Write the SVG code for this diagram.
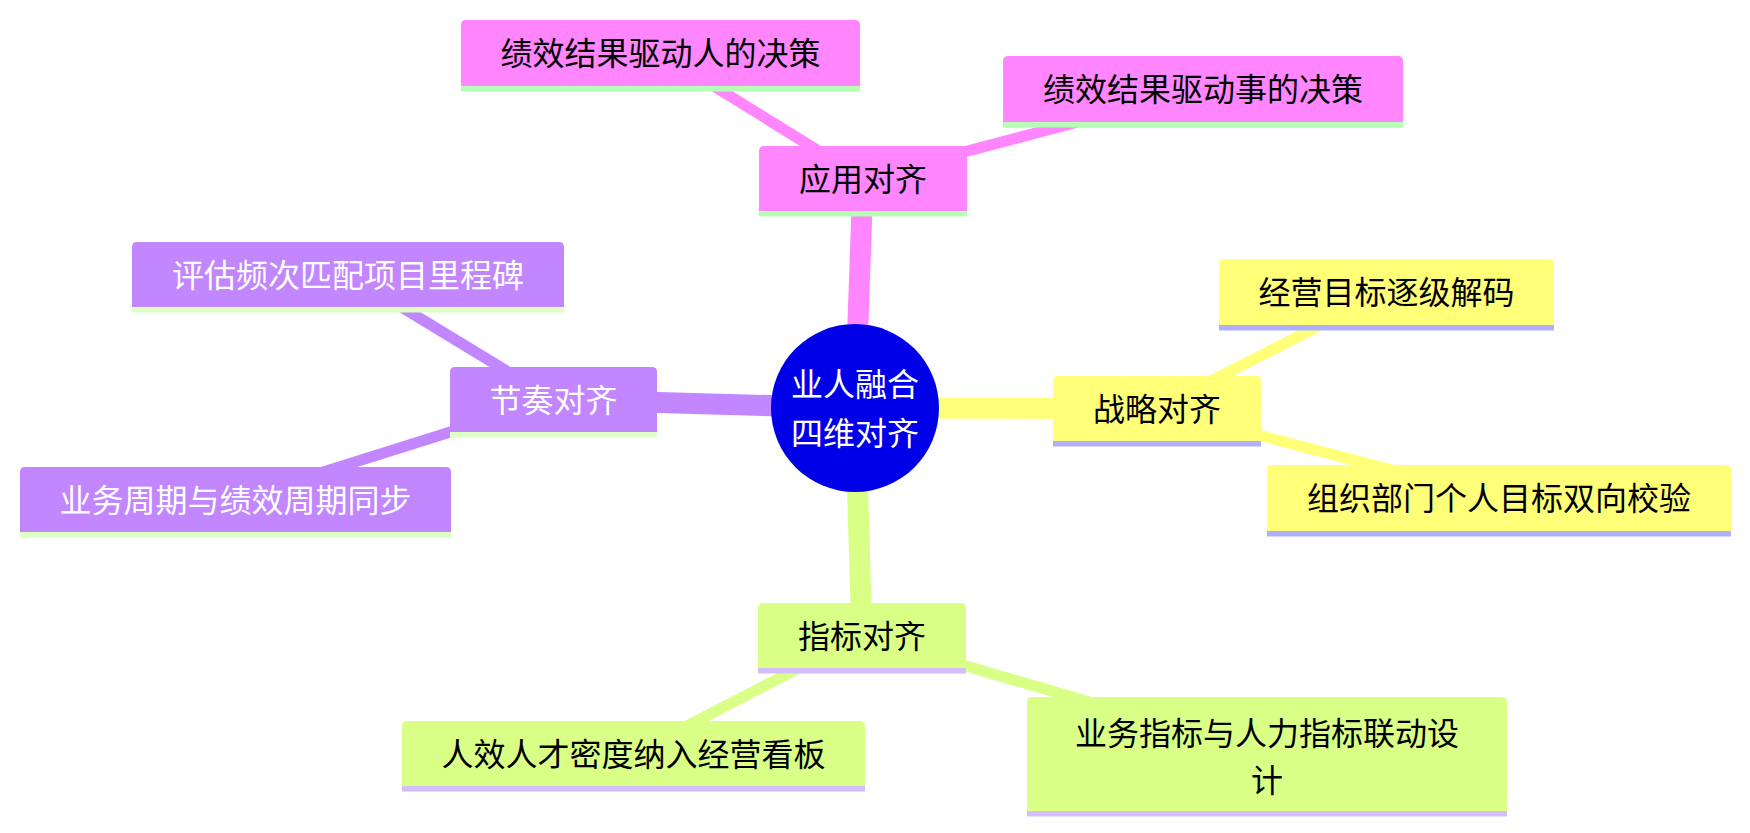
<svg xmlns="http://www.w3.org/2000/svg" width="1750" height="833" viewBox="0 0 1750 833">
<style>
text{font-family:"Noto Sans CJK SC","Noto Sans",sans-serif;font-size:32px;text-anchor:middle}
.e1{stroke-width:21;fill:none;stroke-linecap:butt}
.e2{stroke-width:11;fill:none;stroke-linecap:butt}
.s0 path{fill:#FFFF78}.s0 .ul{fill:#AFAFFF}.s0 text{fill:#000}.s0e{stroke:#FFFF78}
.s1 path{fill:#D9FF86}.s1 .ul{fill:#D2BEFF}.s1 text{fill:#000}.s1e{stroke:#D9FF86}
.s2 path{fill:#C286FF}.s2 .ul{fill:#DDFFC6}.s2 text{fill:#fff}.s2e{stroke:#C286FF}
.s3 path{fill:#FF86FF}.s3 .ul{fill:#B5FFB5}.s3 text{fill:#000}.s3e{stroke:#FF86FF}
</style>
<rect width="1750" height="833" fill="#fff"/>
<g id="connectors">
<line class="e1 s0e" x1="855" y1="408" x2="1157" y2="408.5"/>
<line class="e1 s1e" x1="855" y1="408" x2="862" y2="635.5"/>
<line class="e1 s2e" x1="855" y1="408" x2="553.5" y2="399.5"/>
<line class="e1 s3e" x1="855" y1="408" x2="863" y2="178.5"/>
<line class="e2 s0e" x1="1157" y1="408.5" x2="1386.5" y2="291.5"/>
<line class="e2 s0e" x1="1157" y1="408.5" x2="1499" y2="498"/>
<line class="e2 s1e" x1="862" y1="635.5" x2="633.5" y2="753.5"/>
<line class="e2 s1e" x1="862" y1="635.5" x2="1267" y2="754"/>
<line class="e2 s2e" x1="553.5" y1="399.5" x2="348" y2="274.5"/>
<line class="e2 s2e" x1="553.5" y1="399.5" x2="235.5" y2="499.5"/>
<line class="e2 s3e" x1="863" y1="178.5" x2="660.5" y2="53"/>
<line class="e2 s3e" x1="863" y1="178.5" x2="1203" y2="89"/>
</g>
<g id="root">
<circle cx="855" cy="408" r="84" fill="#0000E8"/>
<text x="855" y="396" fill="#fff">业人融合</text>
<text x="855" y="445" fill="#fff">四维对齐</text>
</g>
<g id="n-zhanlue" class="s0">
<path d="M1053 436 V381 Q1053 376 1058 376 H1256 Q1261 376 1261 381 V441 H1053 Z"/>
<rect class="ul" x="1053" y="441" width="208" height="5.5"/>
<text x="1157" y="420.5">战略对齐</text>
</g>
<g id="n-jingying" class="s0">
<path d="M1219 320 V264 Q1219 259 1224 259 H1549 Q1554 259 1554 264 V325 H1219 Z"/>
<rect class="ul" x="1219" y="325" width="335" height="5.5"/>
<text x="1386.5" y="303.5">经营目标逐级解码</text>
</g>
<g id="n-zuzhi" class="s0">
<path d="M1267 526 V470 Q1267 465 1272 465 H1726 Q1731 465 1731 470 V531 H1267 Z"/>
<rect class="ul" x="1267" y="531" width="464" height="5.5"/>
<text x="1499" y="510">组织部门个人目标双向校验</text>
</g>
<g id="n-zhibiao" class="s1">
<path d="M758 663 V608 Q758 603 763 603 H961 Q966 603 966 608 V668 H758 Z"/>
<rect class="ul" x="758" y="668" width="208" height="5.5"/>
<text x="862" y="647.5">指标对齐</text>
</g>
<g id="n-renxiao" class="s1">
<path d="M402 781 V726 Q402 721 407 721 H860 Q865 721 865 726 V786 H402 Z"/>
<rect class="ul" x="402" y="786" width="463" height="5.5"/>
<text x="633.5" y="765.5">人效人才密度纳入经营看板</text>
</g>
<g id="n-yewuzhibiao" class="s1">
<path d="M1027 806 V702 Q1027 697 1032 697 H1502 Q1507 697 1507 702 V811 H1027 Z"/>
<rect class="ul" x="1027" y="811" width="480" height="5.5"/>
<text x="1267" y="745">业务指标与人力指标联动设</text>
<text x="1267" y="792">计</text>
</g>
<g id="n-jiezou" class="s2">
<path d="M450 427 V372 Q450 367 455 367 H652 Q657 367 657 372 V432 H450 Z"/>
<rect class="ul" x="450" y="432" width="207" height="5.5"/>
<text x="553.5" y="411.5">节奏对齐</text>
</g>
<g id="n-pinggu" class="s2">
<path d="M132 302 V247 Q132 242 137 242 H559 Q564 242 564 247 V307 H132 Z"/>
<rect class="ul" x="132" y="307" width="432" height="5.5"/>
<text x="348" y="286.5">评估频次匹配项目里程碑</text>
</g>
<g id="n-zhouqi" class="s2">
<path d="M20 527 V472 Q20 467 25 467 H446 Q451 467 451 472 V532 H20 Z"/>
<rect class="ul" x="20" y="532" width="431" height="5.5"/>
<text x="235.5" y="511.5">业务周期与绩效周期同步</text>
</g>
<g id="n-yingyong" class="s3">
<path d="M759 206 V151 Q759 146 764 146 H962 Q967 146 967 151 V211 H759 Z"/>
<rect class="ul" x="759" y="211" width="208" height="5.5"/>
<text x="863" y="190.5">应用对齐</text>
</g>
<g id="n-ren" class="s3">
<path d="M461 81 V25 Q461 20 466 20 H855 Q860 20 860 25 V86 H461 Z"/>
<rect class="ul" x="461" y="86" width="399" height="5.5"/>
<text x="660.5" y="65">绩效结果驱动人的决策</text>
</g>
<g id="n-shi" class="s3">
<path d="M1003 117 V61 Q1003 56 1008 56 H1398 Q1403 56 1403 61 V122 H1003 Z"/>
<rect class="ul" x="1003" y="122" width="400" height="5.5"/>
<text x="1203" y="101">绩效结果驱动事的决策</text>
</g>
</svg>
